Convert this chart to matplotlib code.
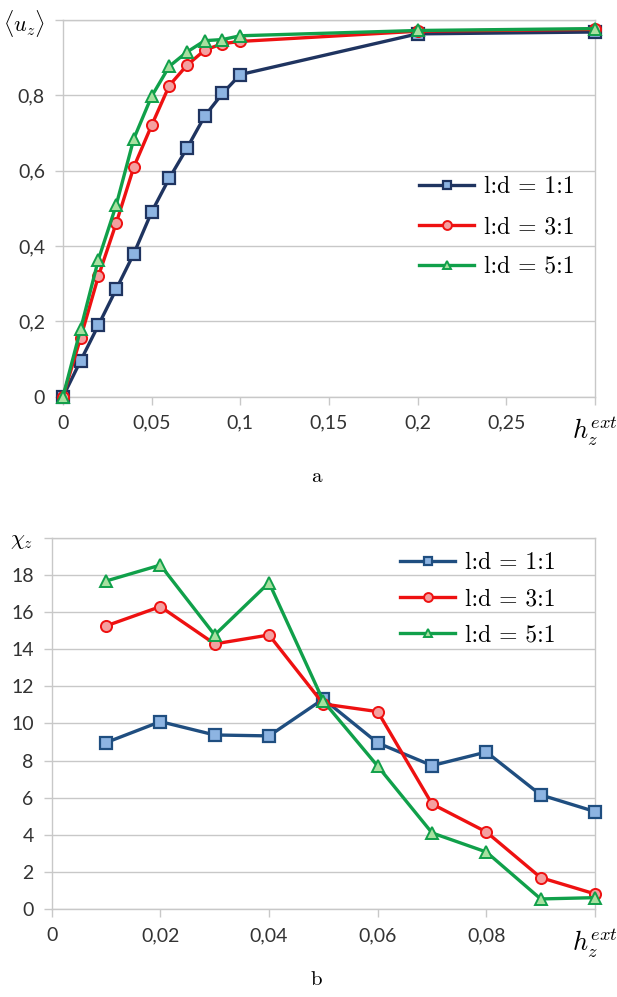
import numpy as np
import matplotlib
matplotlib.use("Agg")
import matplotlib.pyplot as plt

plt.rcParams['mathtext.fontset'] = 'cm'
plt.rcParams['font.family'] = ['Lato', 'DejaVu Sans']
plt.rcParams['axes.formatter.use_mathtext'] = True

# panel a: magnetisation vs field
h_a = [0, 0.01, 0.02, 0.03, 0.04, 0.05, 0.06, 0.07, 0.08, 0.09, 0.1, 0.2, 0.3]
u_11 = [0, 0.096, 0.19, 0.285, 0.38, 0.49, 0.58, 0.66, 0.745, 0.805, 0.855, 0.963, 0.968]
u_31 = [0, 0.157, 0.32, 0.46, 0.61, 0.72, 0.826, 0.88, 0.92, 0.937, 0.943, 0.970, 0.975]
u_51 = [0, 0.18, 0.364, 0.508, 0.685, 0.797, 0.877, 0.915, 0.945, 0.948, 0.958, 0.972, 0.977]

# panel b: susceptibility vs field
h_b = [0.01, 0.02, 0.03, 0.04, 0.05, 0.06, 0.07, 0.08, 0.09, 0.1]
chi_11 = [8.97, 10.1, 9.38, 9.33, 11.32, 8.95, 7.73, 8.46, 6.15, 5.25]
chi_31 = [15.26, 16.3, 14.29, 14.77, 11.05, 10.64, 5.66, 4.15, 1.69, 0.81]
chi_51 = [17.68, 18.54, 14.77, 17.59, 11.2, 7.7, 4.1, 3.07, 0.54, 0.61]

labels = ['l:d = 1:1', 'l:d = 3:1', 'l:d = 5:1']
xt_a = [0, 0.05, 0.1, 0.15, 0.2, 0.25, 0.3]
xl_a = ['0', '0,05', '0,1', '0,15', '0,2', '0,25', r'$h_z^{ext}$']
yt_a = [0, 0.2, 0.4, 0.6, 0.8, 1.0]
yl_a = ['0', '0,2', '0,4', '0,6', '0,8', r'$\langle u_z\rangle$']
xt_b = [0, 0.02, 0.04, 0.06, 0.08, 0.1]
xl_b = ['0', '0,02', '0,04', '0,06', '0,08', r'$h_z^{ext}$']
yt_b = [0, 2, 4, 6, 8, 10, 12, 14, 16, 18, 20]
yl_b = ['0', '2', '4', '6', '8', '10', '12', '14', '16', '18', r'$\chi_z$']

grid_c = '#c8c8c8'
text_c = '#333333'


def style_axes(ax, xt, xl, yt, yl):
    ax.set_xticks(xt)
    ax.set_xticklabels(xl)
    ax.set_yticks(yt)
    ax.set_yticklabels(yl)
    ax.set_xlim(xt[0], xt[-1])
    ax.set_ylim(yt[0], yt[-1])
    ax.grid(axis='y', color=grid_c, lw=1)
    ax.set_axisbelow(True)
    for s in ax.spines.values():
        s.set_color(grid_c)
        s.set_linewidth(1)
    ax.tick_params(colors=grid_c, labelcolor=text_c, labelsize=14, length=6, width=1)
    ax.tick_params(axis='x', pad=7)
    ax.tick_params(axis='y', pad=7)
    # axis-name labels stand in place of the last tick labels
    xlab = ax.get_xticklabels()[-1]
    xlab.set_fontsize(19)
    xlab.set_color('black')
    ylab = ax.get_yticklabels()[-1]
    ylab.set_fontsize(16)
    ylab.set_color('black')


def add_legend(ax, anchor, spacing):
    ax.legend(loc='upper left', bbox_to_anchor=anchor, frameon=False,
              prop={'family': 'cmr10', 'size': 17}, handlelength=2.33,
              handletextpad=0.42, labelspacing=spacing, markerscale=0.8)


fig = plt.figure(figsize=(6.17, 9.97), dpi=100)

ax1 = fig.add_axes([0.102, 0.602, 0.862, 0.378])
ax1.plot(h_a, u_11, color='#1f3460', lw=2.4, marker='s', ms=8, mfc='#8db4e2',
         mec='#1f3460', mew=1.6, clip_on=False, zorder=3, label=labels[0])
ax1.plot(h_a, u_31, color='#ee1111', lw=2.4, marker='o', ms=8, mfc='#f4a0a0',
         mec='#ee1111', mew=1.4, clip_on=False, zorder=4, label=labels[1])
ax1.plot(h_a, u_51, color='#10a04a', lw=2.4, marker='^', ms=8, mfc='#a8e0a0',
         mec='#10a04a', mew=1.4, clip_on=False, zorder=5, label=labels[2])
style_axes(ax1, xt_a, xl_a, yt_a, yl_a)
add_legend(ax1, (0.63, 0.642), 0.75)

ax2 = fig.add_axes([0.0838, 0.0883, 0.8806, 0.3721])
ax2.plot(h_b, chi_11, color='#1f4e80', lw=2.4, marker='s', ms=8, mfc='#8db4e2',
         mec='#1f4e80', mew=1.6, clip_on=False, zorder=3, label=labels[0])
ax2.plot(h_b, chi_31, color='#ee1111', lw=2.4, marker='o', ms=8, mfc='#f4a0a0',
         mec='#ee1111', mew=1.4, clip_on=False, zorder=4, label=labels[1])
ax2.plot(h_b, chi_51, color='#10a04a', lw=2.4, marker='^', ms=8, mfc='#a8e0a0',
         mec='#10a04a', mew=1.4, clip_on=False, zorder=5, label=labels[2])
style_axes(ax2, xt_b, xl_b, yt_b, yl_b)
add_legend(ax2, (0.602, 1.02), 0.6)

fig.text(0.512, 1 - 477 / 997, 'a', family='cmr10', fontsize=15, ha='center', va='center')
fig.text(0.512, 1 - 980 / 997, 'b', family='cmr10', fontsize=15, ha='center', va='center')

fig.savefig('out.png', dpi=100)
